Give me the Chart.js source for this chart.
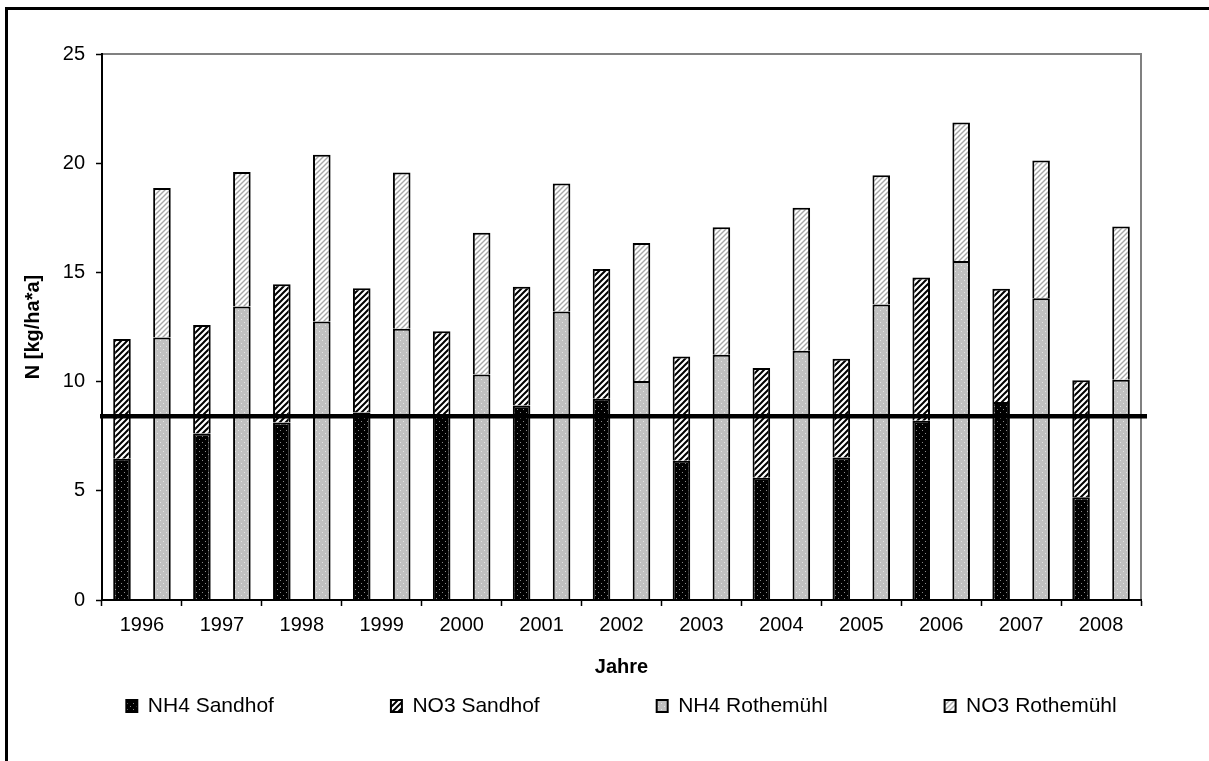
<!DOCTYPE html>
<html>
<head>
<meta charset="utf-8">
<script src="https://cdn.jsdelivr.net/npm/chart.js@4.4.1/dist/chart.umd.min.js"></script>
<style>
  html, body { margin: 0; padding: 0; background: #fff; overflow: hidden; }
  #wrap { position: relative; width: 1209px; height: 761px; overflow: hidden; }
  #frame { position: absolute; left: 5px; top: 7px; right: -20px; bottom: -20px;
           border-left: 3px solid #000; border-top: 3px solid #000; pointer-events: none; }
  canvas { position: absolute; left: 0; top: 0; }
</style>
</head>
<body>
<div id="wrap">
  <canvas id="chart" width="1209" height="761"></canvas>
  <div id="frame"></div>
</div>
<script>
// Annual nitrogen deposition, kg/ha*a
const years = ['1996', '1997', '1998', '1999', '2000', '2001', '2002',
               '2003', '2004', '2005', '2006', '2007', '2008'];
const nh4Sandhof    = [6.47, 7.62, 8.13, 8.59, 8.45, 8.90, 9.22, 6.38, 5.60, 6.53, 8.21, 9.07, 4.70];
const no3Sandhof    = [5.48, 4.97, 6.33, 5.68, 3.85, 5.44, 5.93, 4.77, 5.02, 4.52, 6.56, 5.18, 5.36];
const nh4Rothemuehl = [12.02, 13.44, 12.75, 12.42, 10.32, 13.21, 10.03, 11.23, 11.41, 13.53, 15.52, 13.82, 10.09];
const no3Rothemuehl = [6.84, 6.16, 7.64, 7.15, 6.49, 5.86, 6.32, 5.84, 6.55, 5.92, 6.34, 6.30, 7.01];
const yTicks = [0, 5, 10, 15, 20, 25];
const referenceLevel = 8.41;

const FONT = '"Liberation Sans", Arial, Helvetica, sans-serif';

// small repeating fill textures
function makePattern(size, paint) {
  const c = document.createElement('canvas');
  c.width = c.height = size;
  const g = c.getContext('2d');
  paint(g, size);
  return g.createPattern(c, 'repeat');
}
function dotted(bg, dot) {
  return makePattern(6, (g, s) => {
    g.fillStyle = bg; g.fillRect(0, 0, s, s);
    g.fillStyle = dot; g.fillRect(1, 1, 1, 1); g.fillRect(4, 4, 1, 1);
  });
}
function hatched(line, width, s) {
  return makePattern(s, (g) => {
    g.fillStyle = '#ffffff'; g.fillRect(0, 0, s, s);
    g.strokeStyle = line; g.lineWidth = width;
    g.beginPath();
    g.moveTo(-1, s + 1); g.lineTo(s + 1, -1);
    g.moveTo(-1, 1); g.lineTo(1, -1);
    g.moveTo(s - 1, s + 1); g.lineTo(s + 1, s - 1);
    g.stroke();
  });
}

const fillNh4Sandhof = dotted('#000000', '#8a8a8a');
const fillNo3Sandhof = hatched('#000000', 2, 6);
const fillNh4Roth    = dotted('#c0c0c0', '#e6e6e6');
const fillNo3Roth    = hatched('#a8a8a8', 1.4, 5);

const barStyle = {
  borderColor: '#000000',
  borderWidth: 2,
  barPercentage: 0.44,
  categoryPercentage: 1.0
};

// frame of the plot area and the threshold line
const plotExtras = {
  id: 'plotExtras',
  afterDatasetsDraw(chart) {
    const { ctx, chartArea: a, scales: { y } } = chart;
    ctx.save();
    ctx.strokeStyle = '#808080';
    ctx.lineWidth = 2;
    ctx.beginPath();
    ctx.moveTo(a.left, a.top);
    ctx.lineTo(a.right, a.top);
    ctx.lineTo(a.right, a.bottom);
    ctx.stroke();
    const yy = y.getPixelForValue(referenceLevel);
    ctx.strokeStyle = '#000000';
    ctx.lineWidth = 4.5;
    ctx.beginPath();
    ctx.moveTo(a.left - 2, yy);
    ctx.lineTo(a.right + 6, yy);
    ctx.stroke();
    ctx.restore();
  }
};

const legendGap = ' '.repeat(18);

new Chart(document.getElementById('chart'), {
  type: 'bar',
  data: {
    labels: years,
    datasets: [
      { label: 'NH4 Sandhof',    data: nh4Sandhof,    stack: 'Sandhof',   backgroundColor: fillNh4Sandhof, ...barStyle },
      { label: 'NO3 Sandhof',    data: no3Sandhof,    stack: 'Sandhof',   backgroundColor: fillNo3Sandhof, ...barStyle },
      { label: 'NH4 Rothemühl',  data: nh4Rothemuehl, stack: 'Rothemuhl', backgroundColor: fillNh4Roth,    ...barStyle },
      { label: 'NO3 Rothemühl',  data: no3Rothemuehl, stack: 'Rothemuhl', backgroundColor: fillNo3Roth,    ...barStyle }
    ]
  },
  options: {
    responsive: false,
    animation: false,
    devicePixelRatio: 1,
    layout: { padding: { left: 0, top: 54, right: 68, bottom: 34.5 } },
    scales: {
      x: {
        stacked: true,
        grid: { drawOnChartArea: false, drawTicks: true, tickLength: 6, tickColor: '#000', tickWidth: 1.5, offset: true },
        border: { color: '#000', width: 2, z: 1 },
        ticks: { color: '#000', padding: 7, font: { family: FONT, size: 20 }, maxRotation: 0, autoSkip: false },
        title: { display: true, text: 'Jahre', color: '#000',
                 font: { family: FONT, size: 20, weight: 'bold' }, padding: { top: 0, bottom: 4.5 } },
        afterFit(scale) { scale.height = 83.5; }
      },
      y: {
        stacked: true,
        min: 0,
        max: 25,
        grid: { drawOnChartArea: false, drawTicks: true, tickLength: 6, tickColor: '#000', tickWidth: 1.5 },
        border: { color: '#000', width: 2, z: 1 },
        ticks: { color: '#000', padding: 11, font: { family: FONT, size: 20 } },
        afterBuildTicks(scale) { scale.ticks = yTicks.map(v => ({ value: v })); },
        title: { display: true, text: 'N [kg/ha*a]', color: '#000',
                 font: { family: FONT, size: 20, weight: 'bold' }, padding: { top: 21, bottom: 0 } },
        afterFit(scale) { scale.width = 102; }
      }
    },
    plugins: {
      tooltip: { enabled: false },
      legend: {
        position: 'bottom',
        fullSize: false,
        labels: {
          color: '#000',
          font: { family: FONT, size: 21 },
          boxWidth: 11,
          boxHeight: 12,
          padding: 12,
          generateLabels(chart) {
            const items = Chart.defaults.plugins.legend.labels.generateLabels(chart);
            items.forEach((it, i) => { if (i < items.length - 1) it.text += legendGap; });
            return items;
          }
        }
      }
    }
  },
  plugins: [plotExtras]
});
</script>
</body>
</html>
